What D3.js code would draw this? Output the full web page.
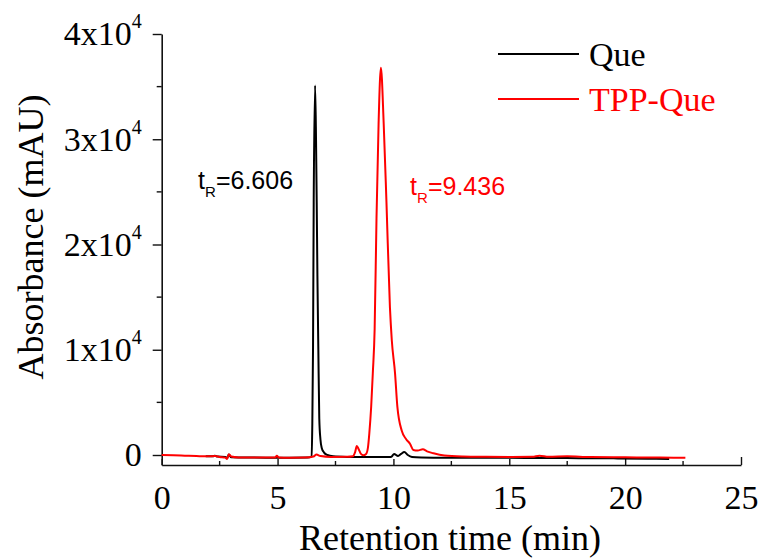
<!DOCTYPE html>
<html>
<head>
<meta charset="utf-8">
<script src="https://cdn.jsdelivr.net/npm/d3@7"></script>
<style>
  body { margin: 0; background: #fff; }
  svg { display: block; }
</style>
</head>
<body>
<div id="graph"></div>
<script>
'use strict';

// chromatogram values (time in min, absorbance in mAU)
var queTime = [1.9, 2.2, 2.3, 2.4, 2.75, 2.82, 2.9, 3.0, 3.5, 4.5, 5.5, 6.3, 6.47, 6.50, 6.53, 6.56, 6.62, 6.66, 6.69, 6.72, 6.76, 6.80, 6.85, 6.91, 7.0, 7.15, 7.4, 8.0, 8.8, 9.5, 9.85, 9.92, 10.03, 10.2, 10.33, 10.47, 10.62, 10.8, 11.2, 12, 13.5, 15, 16.5, 18, 19.5, 21, 21.9];
var queAbs = [-120, -130, -60, -150, -180, -300, 40, -220, -230, -250, -250, -240, -150, 3000, 10000, 24000, 35100, 30000, 24000, 17000, 10000, 3500, 1500, 650, 250, 0, -120, -180, -200, -200, -200, -150, 100, -100, 100, 280, 0, -180, -230, -250, -260, -270, -280, -300, -320, -350, -380];

var tppTime = [0, 0.5, 1, 1.5, 2.0, 2.3, 2.5, 2.75, 2.82, 2.9, 3.0, 3.3, 4, 4.9, 4.97, 5.05, 5.5, 6.2, 6.55, 6.68, 6.85, 7.3, 8.0, 8.25, 8.35, 8.42, 8.5, 8.6, 8.7, 8.82, 8.9, 8.96, 9.04, 9.11, 9.19, 9.27, 9.36, 9.46, 9.58, 9.70, 9.85, 9.93, 10.07, 10.17, 10.36, 10.55, 10.72, 10.86, 11.05, 11.27, 11.45, 11.73, 12.2, 13, 14, 15, 16.0, 16.3, 16.7, 17.5, 18.5, 20, 21.5, 22.6];
var tppAbs = [0, -20, -60, -100, -130, -100, -180, -250, -380, 70, -150, -230, -240, -240, -70, -230, -250, -240, -150, 50, -100, -180, -170, -120, 300, 850, 550, 100, -20, 100, 700, 2060, 4590, 7750, 12000, 22500, 31500, 36800, 31500, 24000, 14000, 10900, 7750, 4590, 2300, 1500, 1050, 480, 430, 540, 350, 160, -50, -140, -170, -180, -170, -60, -170, -110, -200, -220, -240, -260];

var seriesNames = ['Que', 'TPP-Que'];
var seriesColors = ['#000000', '#ff0000'];
var peakTimes = ['6.606', '9.436'];

var xTicks = [0, 5, 10, 15, 20, 25];
var xMinorTicks = [2.5, 7.5, 12.5, 17.5, 22.5];
var yTicks = [0, 10000, 20000, 30000, 40000];
var yMinorTicks = [5000, 15000, 25000, 35000];

// Setting up the chart area
var canvasWidth = 761;
var canvasHeight = 559;
var serif = '"Liberation Serif", "Times New Roman", Times, serif';
var sans = '"Liberation Sans", Arial, Helvetica, sans-serif';

var svg = d3.select('#graph')
  .append('svg')
  .attr('width', canvasWidth)
  .attr('height', canvasHeight);

var xScale = d3.scaleLinear().domain([0, 25]).range([161.7, 741]);
var yScale = d3.scaleLinear().domain([-950, 40000]).range([465, 34]);

// x axis, ticks pointing inward
var xAxis = svg.append('g')
  .attr('transform', 'translate(0,' + yScale(-950) + ')')
  .call(d3.axisBottom(xScale)
    .tickValues(xTicks)
    .tickSizeInner(-6)
    .tickSizeOuter(0)
    .tickPadding(20)
    .tickFormat(d3.format('d')));
xAxis.append('g')
  .selectAll('line')
  .data(xMinorTicks)
  .enter()
  .append('line')
  .attr('x1', function(d) { return xScale(d); })
  .attr('x2', function(d) { return xScale(d); })
  .attr('y1', 0)
  .attr('y2', -4)
  .attr('stroke', '#111')
  .attr('stroke-width', 1.4);
xAxis.selectAll('.tick line').filter(function(d) { return d == 25; }).attr('y2', -8);
xAxis.select('.domain').attr('stroke', '#111').attr('stroke-width', 1.6);
xAxis.selectAll('.tick line').attr('stroke', '#111').attr('stroke-width', 1.4);
xAxis.selectAll('text')
  .attr('font-family', serif)
  .attr('font-size', '34px')
  .attr('fill', '#000');

// y axis, ticks pointing outward
var yAxis = svg.append('g')
  .attr('transform', 'translate(' + xScale(0) + ',0)')
  .call(d3.axisLeft(yScale)
    .tickValues(yTicks)
    .tickSizeInner(9)
    .tickSizeOuter(0)
    .tickPadding(11));
yAxis.append('g')
  .selectAll('line')
  .data(yMinorTicks)
  .enter()
  .append('line')
  .attr('y1', function(d) { return yScale(d); })
  .attr('y2', function(d) { return yScale(d); })
  .attr('x1', 0)
  .attr('x2', -5)
  .attr('stroke', '#111')
  .attr('stroke-width', 1.4);
yAxis.select('.domain').attr('stroke', '#111').attr('stroke-width', 1.6);
yAxis.selectAll('.tick line').attr('stroke', '#111').attr('stroke-width', 1.4);
yAxis.selectAll('.tick text')
  .attr('font-family', serif)
  .attr('font-size', '34px')
  .attr('fill', '#000')
  .attr('dy', '0.32em')
  .each(function(d) {
    var t = d3.select(this).text('');
    if (d == 0) {
      t.text('0');
      return;
    }
    t.append('tspan').text((d / 10000) + 'x10');
    t.append('tspan')
      .attr('font-size', '20px')
      .attr('dy', -17)
      .text('4');
  });

// the two chromatograms, red drawn on top
var line = d3.line()
  .x(function(d) { return xScale(d[0]); })
  .y(function(d) { return yScale(d[1]); })
  .curve(d3.curveMonotoneX);

var series = [d3.zip(queTime, queAbs), d3.zip(tppTime, tppAbs)];
svg.append('g')
  .selectAll('path')
  .data(series)
  .enter()
  .append('path')
  .attr('d', line)
  .attr('fill', 'none')
  .attr('stroke', function(d, i) { return seriesColors[i]; })
  .attr('stroke-width', 2)
  .attr('stroke-linejoin', 'round');

// retention time labels
var labelAnchors = [[1.57, 25300], [10.72, 24700]];
var peakLabel = svg.append('g')
  .selectAll('text')
  .data(peakTimes)
  .enter()
  .append('text')
  .attr('x', function(d, i) { return xScale(labelAnchors[i][0]); })
  .attr('y', function(d, i) { return yScale(labelAnchors[i][1]); })
  .attr('font-family', sans)
  .attr('font-size', '25px')
  .attr('fill', function(d, i) { return seriesColors[i]; });
peakLabel.append('tspan').text('t');
peakLabel.append('tspan').attr('font-size', '15px').attr('dy', 8).text('R');
peakLabel.append('tspan').attr('dy', -8).text(function(d) { return '=' + d; });

// legend
var legend = svg.append('g')
  .selectAll('g')
  .data(seriesNames)
  .enter()
  .append('g')
  .attr('transform', function(d, i) { return 'translate(498,' + (54 + i * 45) + ')'; });
legend.append('line')
  .attr('x1', 0)
  .attr('x2', 81)
  .attr('stroke', function(d, i) { return seriesColors[i]; })
  .attr('stroke-width', 2);
legend.append('text')
  .attr('x', 91)
  .attr('y', 12)
  .attr('font-family', serif)
  .attr('font-size', '34px')
  .attr('fill', function(d, i) { return seriesColors[i]; })
  .text(function(d) { return d; });

// axis titles
svg.append('text')
  .attr('x', 450)
  .attr('y', 550)
  .attr('text-anchor', 'middle')
  .attr('font-family', serif)
  .attr('font-size', '36px')
  .text('Retention time (min)');

svg.append('text')
  .attr('transform', 'rotate(-90)')
  .attr('x', -237)
  .attr('y', 43)
  .attr('text-anchor', 'middle')
  .attr('font-family', serif)
  .attr('font-size', '36px')
  .text('Absorbance (mAU)');
</script>
</body>
</html>
